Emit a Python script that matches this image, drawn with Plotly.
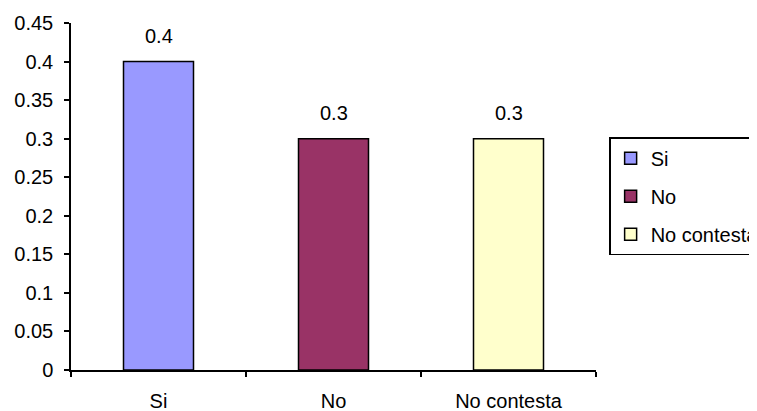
import plotly.graph_objects as go

categories = ["Si", "No", "No contesta"]
values = [0.4, 0.3, 0.3]
colors = ["#9999FF", "#993366", "#FFFFCC"]
value_labels = ["0.4", "0.3", "0.3"]
y_ticks = [0, 0.05, 0.1, 0.15, 0.2, 0.25, 0.3, 0.35, 0.4, 0.45]
y_tick_labels = ["0", "0.05", "0.1", "0.15", "0.2", "0.25", "0.3", "0.35", "0.4", "0.45"]

FONT = "Liberation Sans, Arial, sans-serif"
FS = 20

fig = go.Figure()
for cat, val, col in zip(categories, values, colors):
    fig.add_trace(go.Bar(
        x=[cat], y=[val], name=cat, marker=dict(color=col, line=dict(color="black", width=1.5)),
        width=0.4, legendgroup=cat, showlegend=True,
    ))

for cat, val, lab in zip(categories, values, value_labels):
    fig.add_annotation(x=cat, y=val, text=lab, showarrow=False, yanchor="bottom",
                       yshift=13, font=dict(size=FS, color="black", family=FONT))

fig.update_layout(
    width=749, height=403,
    margin=dict(l=63, r=161, t=15, b=41, autoexpand=False),
    paper_bgcolor="white", plot_bgcolor="white",
    font=dict(family=FONT, size=FS, color="black"),
    barmode="overlay",
    showlegend=True,
    legend=dict(x=1.025, y=0.671, xanchor="left", yanchor="top",
                bordercolor="black", borderwidth=1.5, bgcolor="white",
                tracegroupgap=9, traceorder="grouped",
                font=dict(size=FS, family=FONT), itemwidth=30),
    xaxis=dict(type="category", categoryorder="array", categoryarray=categories,
               showline=True, linecolor="black", linewidth=1.5,
               ticks="outside", tickson="boundaries", ticklen=5, tickcolor="black", tickwidth=1.5,
               ticklabelstandoff=12, showgrid=False, range=[-0.5, 2.5]),
    yaxis=dict(range=[0, 0.45], tickvals=y_ticks, ticktext=y_tick_labels,
               showline=True, linecolor="black", linewidth=1.5,
               ticks="outside", ticklen=5, tickcolor="black", tickwidth=1.5,
               ticklabelstandoff=7, showgrid=False, zeroline=False),
)

fig.write_html("out.html")
